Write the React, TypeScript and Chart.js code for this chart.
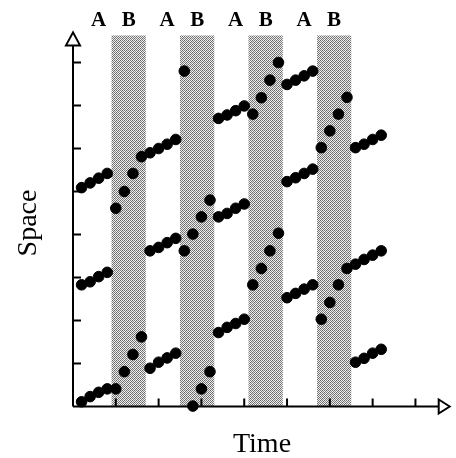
import React, { useEffect, useRef } from 'react';
import { Chart, registerables } from 'chart.js';
Chart.register(...registerables);

// Time steps of the slow (A) phases and fast (B) phases
const aTimes = [0.2, 0.4, 0.6, 0.8, 1.8, 2.0, 2.2, 2.4, 3.4, 3.6, 3.8, 4.0, 5.0, 5.2, 5.4, 5.6, 6.6, 6.8, 7.0, 7.2];
const aUpper = [5.09, 5.2, 5.31, 5.42, 5.9, 6.0, 6.1, 6.21, 6.7, 6.78, 6.88, 6.99, 7.49, 7.59, 7.69, 7.8, 6.02, 6.1, 6.21, 6.31];
const aMiddle = [2.83, 2.9, 3.02, 3.12, 3.62, 3.7, 3.81, 3.91, 4.41, 4.49, 4.61, 4.71, 5.23, 5.32, 5.42, 5.52, 3.31, 3.42, 3.52, 3.62];
const aLower = [0.11, 0.23, 0.33, 0.41, 0.89, 1.03, 1.13, 1.24, 1.72, 1.84, 1.93, 2.03, 2.53, 2.63, 2.73, 2.83, 1.03, 1.12, 1.24, 1.33];

const bTimes = [1.0, 1.2, 1.4, 1.6, 2.6, 2.8, 3.0, 3.2, 4.2, 4.4, 4.6, 4.8, 5.8, 6.0, 6.2, 6.4];
const bFirst = [4.61, 5.0, 5.42, 5.81, 3.62, 4.01, 4.41, 4.8, 6.8, 7.18, 7.59, 8.0, 6.02, 6.41, 6.8, 7.19];
const bSecond = [0.41, 0.81, 1.21, 1.62, 7.8, 0.01, 0.41, 0.81, 2.83, 3.21, 3.62, 4.03, 2.03, 2.42, 2.83, 3.21];

// Shaded B intervals and phase labels
const bandStarts = [0.9, 2.5, 4.1, 5.7];
const bandEnds = [1.7, 3.3, 4.9, 6.5];
const bandTop = 8.63;
const phaseLabels = ['A', 'B', 'A', 'B', 'A', 'B', 'A', 'B'];
const phaseLabelTimes = [0.6, 1.3, 2.2, 2.9, 3.8, 4.5, 5.4, 6.1];

const xTicks = [1, 2, 3, 4, 5, 6, 7, 8];
const yTicks = [1, 2, 3, 4, 5, 6, 7, 8];
const xTitle = 'Time';
const yTitle = 'Space';

const pts = (xs: number[], ys: number[]) => xs.map((t, i) => ({ x: t, y: ys[i] }));

export default function App() {
  const ref = useRef<HTMLCanvasElement>(null);
  useEffect(() => {
    const canvas = ref.current!;
    // stippled grey texture for the shaded bands
    const tile = document.createElement('canvas');
    tile.width = 4;
    tile.height = 4;
    const tctx = tile.getContext('2d')!;
    const levels = [100, 235, 120, 240, 230, 130, 245, 110, 125, 240, 95, 230, 245, 115, 235, 140];
    const img = tctx.createImageData(4, 4);
    levels.forEach((v, i) => {
      img.data[i * 4] = v;
      img.data[i * 4 + 1] = v;
      img.data[i * 4 + 2] = v;
      img.data[i * 4 + 3] = 255;
    });
    tctx.putImageData(img, 0, 0);
    const ctx0 = canvas.getContext('2d')!;
    const pattern = ctx0.createPattern(tile, 'repeat')!;

    const decor = {
      id: 'decor',
      beforeDatasetsDraw(chart: any) {
        const { ctx, scales } = chart;
        const x = scales.x;
        const y = scales.y;
        const x0 = x.getPixelForValue(0);
        const y0 = y.getPixelForValue(0);
        ctx.save();
        // bands
        ctx.fillStyle = pattern;
        bandStarts.forEach((s: number, i: number) => {
          const xa = x.getPixelForValue(s);
          const xb = x.getPixelForValue(bandEnds[i]);
          const yt = y.getPixelForValue(bandTop);
          ctx.fillRect(xa, yt, xb - xa, y0 - yt);
        });
        // axes
        ctx.strokeStyle = '#000';
        ctx.lineWidth = 2;
        const xEnd = chart.chartArea.right;
        const yEnd = chart.chartArea.top;
        ctx.beginPath();
        ctx.moveTo(x0, y0);
        ctx.lineTo(xEnd - 11, y0);
        ctx.moveTo(x0, y0);
        ctx.lineTo(x0, yEnd + 13);
        ctx.stroke();
        // ticks
        ctx.beginPath();
        xTicks.forEach((t) => {
          const px = x.getPixelForValue(t);
          ctx.moveTo(px, y0);
          ctx.lineTo(px, y0 - 8);
        });
        yTicks.forEach((t) => {
          const py = y.getPixelForValue(t);
          ctx.moveTo(x0, py);
          ctx.lineTo(x0 + 8, py);
        });
        ctx.stroke();
        // arrows
        ctx.fillStyle = '#fff';
        ctx.beginPath();
        ctx.moveTo(x0, yEnd);
        ctx.lineTo(x0 - 7, yEnd + 13);
        ctx.lineTo(x0 + 7, yEnd + 13);
        ctx.closePath();
        ctx.fill();
        ctx.stroke();
        ctx.beginPath();
        ctx.moveTo(xEnd, y0);
        ctx.lineTo(xEnd - 11, y0 - 7);
        ctx.lineTo(xEnd - 11, y0 + 7);
        ctx.closePath();
        ctx.fill();
        ctx.stroke();
        // phase labels
        ctx.fillStyle = '#000';
        ctx.font = 'bold 21px "Liberation Serif"';
        ctx.textAlign = 'center';
        ctx.textBaseline = 'alphabetic';
        phaseLabels.forEach((l, i) => {
          ctx.fillText(l, x.getPixelForValue(phaseLabelTimes[i]), 26);
        });
        // axis titles
        ctx.font = '28px "Liberation Serif"';
        ctx.fillText(xTitle, 262, 452);
        ctx.translate(36, 223);
        ctx.rotate(-Math.PI / 2);
        ctx.fillText(yTitle, 0, 0);
        ctx.restore();
      },
    };

    const common = {
      pointRadius: 5.3,
      pointHoverRadius: 5.3,
      backgroundColor: '#000',
      borderColor: '#000',
      showLine: false,
      clip: false as any,
    };

    const chart = new Chart(canvas, {
      type: 'scatter',
      data: {
        datasets: [
          { label: 'A upper', data: pts(aTimes, aUpper), ...common },
          { label: 'A middle', data: pts(aTimes, aMiddle), ...common },
          { label: 'A lower', data: pts(aTimes, aLower), ...common },
          { label: 'B first', data: pts(bTimes, bFirst), ...common },
          { label: 'B second', data: pts(bTimes, bSecond), ...common },
        ],
      },
      options: {
        responsive: false,
        animation: false,
        devicePixelRatio: 1,
        layout: { padding: { left: 73, right: 1, top: 32.4, bottom: 51.5 } },
        plugins: { legend: { display: false }, tooltip: { enabled: false } },
        scales: {
          x: { type: 'linear', min: 0, max: 8.8, display: false },
          y: { type: 'linear', min: 0, max: 8.7, display: false },
        },
      },
      plugins: [decor],
    });
    return () => chart.destroy();
  }, []);
  return (
    <div style={{ position: 'fixed', left: 0, top: 0, width: 456, height: 458, background: '#fff' }}>
      <canvas ref={ref} width={456} height={458} style={{ display: 'block' }} />
    </div>
  );
}
